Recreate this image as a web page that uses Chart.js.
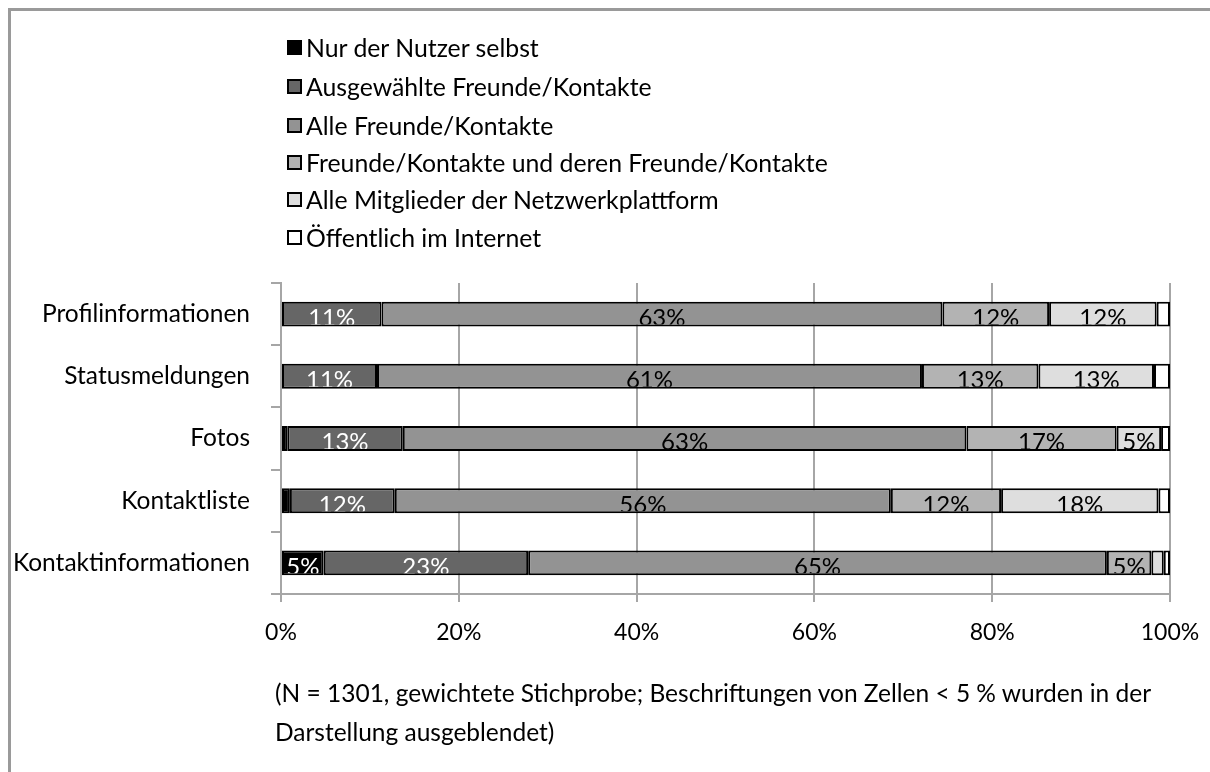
<!DOCTYPE html>
<html><head><meta charset="utf-8">
<script src="https://cdn.jsdelivr.net/npm/chart.js@4.4.1/dist/chart.umd.min.js"></script>
<style>
html,body{margin:0;padding:0;background:#fff;}
#wrap{position:relative;width:1210px;height:772px;overflow:hidden;font-family:Lato,sans-serif;color:#000;}
#frame{position:absolute;left:8px;top:8px;width:1300px;height:900px;border-left:3px solid #9a9a9a;border-top:3px solid #9a9a9a;box-sizing:border-box;}
canvas{position:absolute;left:0;top:0;}
#legend{position:absolute;left:287px;top:33px;}
.li{position:absolute;left:0;height:30px;white-space:nowrap;font-size:24.8px;line-height:30px;}
.sw{position:absolute;left:0;top:7px;width:11px;height:11px;border:2px solid #000;}
.lt{position:absolute;left:19px;top:0;}
#note{position:absolute;left:275px;top:673px;font-size:24.5px;line-height:39px;width:900px;}
</style></head><body>
<div id="wrap">
<div id="frame"></div>
<canvas id="c" width="1210" height="772"></canvas>
<div id="legend"></div>
<div id="note">(N = 1301, gewichtete Stichprobe; Beschriftungen von Zellen &lt; 5 % wurden in der<br>Darstellung ausgeblendet)</div>
</div>
<script>
// ---- data ----
const categories = ['Profilinformationen','Statusmeldungen','Fotos','Kontaktliste','Kontaktinformationen'];
const seriesNames = ['Nur der Nutzer selbst','Ausgewählte Freunde/Kontakte','Alle Freunde/Kontakte','Freunde/Kontakte und deren Freunde/Kontakte','Alle Mitglieder der Netzwerkplattform','Öffentlich im Internet'];
const nurNutzer      = [0.0, 0.0, 0.7, 1.0, 4.8];
const ausgewaehlte   = [11.3, 10.8, 13.0, 11.8, 23.0];
const alleFreunde    = [63.1, 61.3, 63.4, 55.8, 65.1];
const freundeFreunde = [12.0, 13.1, 16.9, 12.4, 5.0];
const alleMitglieder = [12.1, 13.0, 5.0, 17.7, 1.4];
const oeffentlich    = [1.5, 1.8, 1.0, 1.3, 0.7];
const xTicks = [0, 20, 40, 60, 80, 100];

const seriesValues = [nurNutzer, ausgewaehlte, alleFreunde, freundeFreunde, alleMitglieder, oeffentlich];
const fills = ['#000000','#666666','#939393','#b3b3b3','#dedede','#ffffff'];
const labelColors = ['#ffffff','#ffffff','#000000','#000000','#000000','#000000'];
const FONT = 'Lato';

// legend (HTML)
const lg = document.getElementById('legend');
const legendY = [0, 39, 78, 115, 152, 190];
seriesNames.forEach((n,i)=>{
  const d=document.createElement('div'); d.className='li'; d.style.top=legendY[i]+'px';
  d.innerHTML='<div class="sw" style="background:'+fills[i]+'"></div><div class="lt"></div>';
  d.querySelector('.lt').textContent=n; lg.appendChild(d);
});

const labelPlugin = {
  id:'segLabels',
  afterDatasetsDraw(chart){
    const ctx=chart.ctx;
    chart.data.datasets.forEach((ds,di)=>{
      const meta=chart.getDatasetMeta(di);
      meta.data.forEach((bar,i)=>{
        const v=ds.data[i]; const r=Math.round(v);
        if(r<5) return;
        const h=bar.height; const l=Math.min(bar.x,bar.base), w=Math.abs(bar.x-bar.base);
        ctx.save();
        ctx.beginPath(); ctx.rect(l, bar.y-h/2, w, h-2); ctx.clip();
        ctx.font='24px '+FONT; ctx.fillStyle=labelColors[di];
        ctx.textAlign='center'; ctx.textBaseline='alphabetic';
        ctx.fillText(r+'%', l+w/2, bar.y+h/2-0.5);
        ctx.restore();
      });
    });
  }
};

new Chart(document.getElementById('c'), {
  type:'bar',
  data:{
    labels:categories,
    datasets: seriesNames.map((n,i)=>({
      label:n, data:seriesValues[i], backgroundColor:fills[i],
      borderColor:'#000', borderWidth:2, borderSkipped:false,
      barPercentage:0.4, categoryPercentage:1.0
    }))
  },
  options:{
    indexAxis:'y', responsive:false, animation:false,
    layout:{padding:{top:283,right:40,left:0,bottom:0}},
    plugins:{legend:{display:false}, tooltip:{enabled:false}},
    scales:{
      x:{
        stacked:true, min:0, max:100,
        afterBuildTicks(s){ s.ticks = xTicks.map(v=>({value:v})); },
        afterFit(s){ s.height = 178; s.paddingLeft = 0; s.paddingRight = 0; },
        ticks:{callback:v=>v+'%', font:{family:FONT,size:23}, color:'#000', padding:17, maxRotation:0},
        grid:{color:'#a6a6a6', lineWidth:2, tickLength:8, drawTicks:true},
        border:{color:'#a6a6a6', width:2}
      },
      y:{
        stacked:true,
        afterFit(s){ s.width = 281; s.paddingTop = 0; s.paddingBottom = 0; },
        ticks:{font:{family:FONT,size:24.5}, color:'#000', padding:21},
        grid:{offset:true, drawOnChartArea:false, drawTicks:true, tickLength:10, color:'#a6a6a6', lineWidth:2},
        border:{color:'#a6a6a6', width:2}
      }
    }
  },
  plugins:[labelPlugin]
});
</script></body></html>
